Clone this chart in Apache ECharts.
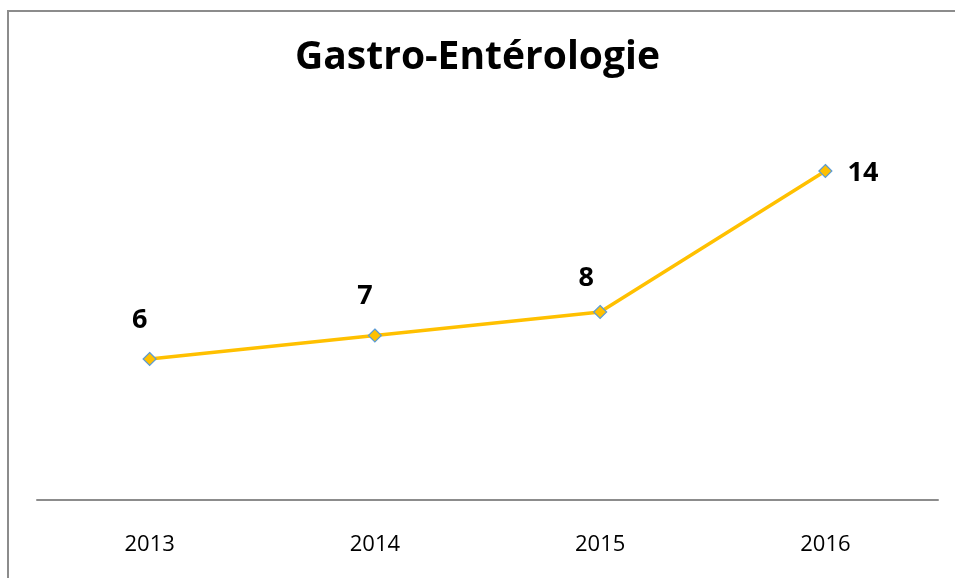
<!DOCTYPE html>
<html>
<head>
<meta charset="utf-8">
<script src="https://cdn.jsdelivr.net/npm/echarts@6/dist/echarts.min.js"></script>
<style>
  html, body { margin: 0; padding: 0; background: #fff; }
  #main { width: 955px; height: 578px; }
</style>
</head>
<body>
<div id="main"></div>
<script>
// chart data
var years = ['2013', '2014', '2015', '2016'];
var cases = [6, 7, 8, 14];
var titleText = 'Gastro-Entérologie';

// label placement per point (Excel put the last one on the right)
var labelPos = [
    { position: 'top', offset: [-10, -13] },
    { position: 'top', offset: [-10, -14] },
    { position: 'top', offset: [-14, -8] },
    { position: 'right', offset: [10, 2] }
];

var chart = echarts.init(document.getElementById('main'));

var option = {
    backgroundColor: '#ffffff',
    animation: false,
    title: {
        text: titleText,
        left: 'center',
        top: 33,
        textStyle: {
            fontFamily: 'Open Sans',
            fontWeight: 'bold',
            fontSize: 39,
            color: '#000'
        }
    },
    graphic: [
        {
            type: 'polyline',
            shape: { points: [[8, 600], [8, 11], [960, 11]] },
            style: { stroke: '#8c8c8c', lineWidth: 2, fill: null }
        }
    ],
    grid: {
        left: 37,
        width: 901,
        top: 124,
        height: 376
    },
    xAxis: {
        type: 'category',
        data: years,
        boundaryGap: true,
        axisLine: { lineStyle: { color: '#8c8c8c', width: 2 } },
        axisTick: { show: false },
        axisLabel: {
            margin: 34,
            fontFamily: 'Open Sans',
            fontSize: 22,
            color: '#000'
        }
    },
    yAxis: {
        type: 'value',
        min: 0,
        max: 16,
        show: false,
        splitLine: { show: false }
    },
    series: [
        {
            type: 'line',
            data: cases.map(function (v, i) {
                return { value: v, label: labelPos[i] };
            }),
            symbol: 'diamond',
            symbolSize: 13,
            lineStyle: { color: '#ffc000', width: 3.5 },
            itemStyle: { color: '#ffc000', borderColor: '#5b9bd5', borderWidth: 1.2 },
            label: {
                show: true,
                fontFamily: 'Open Sans',
                fontWeight: 'bold',
                fontSize: 27,
                color: '#000'
            }
        }
    ]
};

chart.setOption(option);
</script>
</body>
</html>
